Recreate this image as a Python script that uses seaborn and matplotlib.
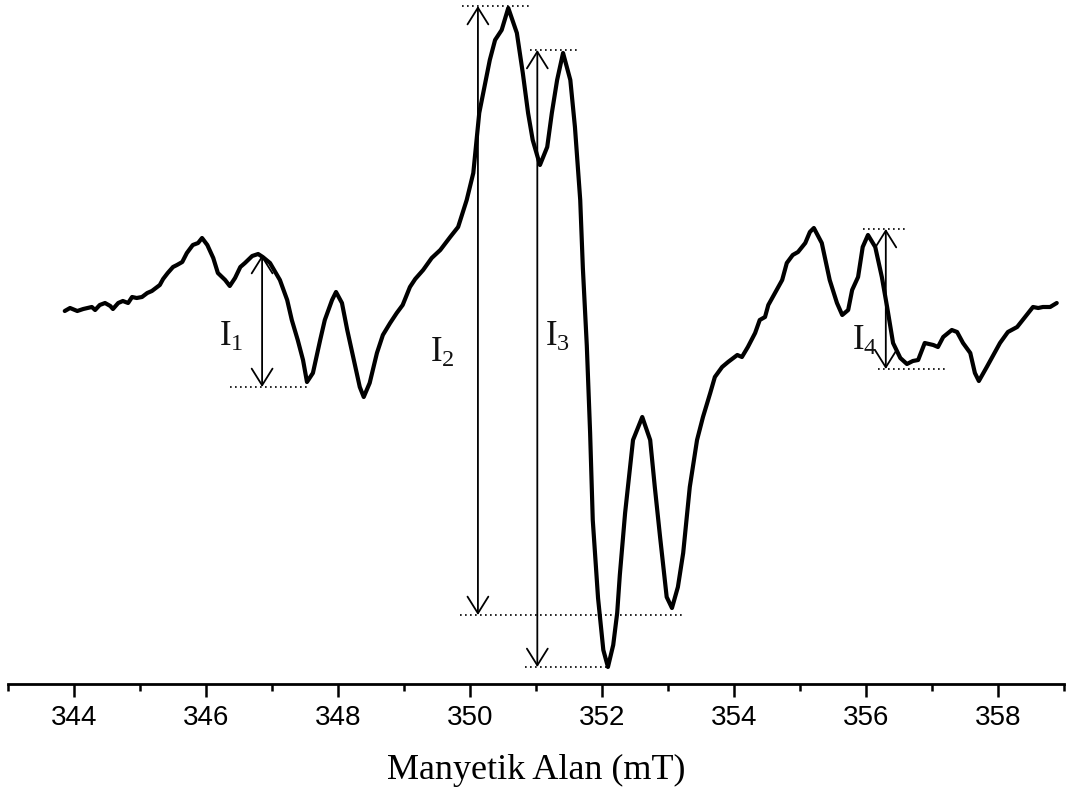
import numpy as np
import pandas as pd
import seaborn as sns
import matplotlib.pyplot as plt
from matplotlib.ticker import MultipleLocator

# EPR spektrumu (okunan degerler, keyfi birim)
field = [343.86, 343.94, 344.05, 344.14, 344.27, 344.32, 344.39, 344.47, 344.55, 344.59,
         344.67, 344.74, 344.82, 344.88, 344.95, 345.03, 345.11, 345.18, 345.26, 345.30,
         345.35, 345.42, 345.50, 345.56, 345.64, 345.71, 345.80, 345.88, 345.94, 346.02,
         346.11, 346.18, 346.29, 346.36, 346.44, 346.52, 346.59, 346.70, 346.79, 346.86,
         346.97, 347.12, 347.23, 347.30, 347.39, 347.47, 347.53, 347.62, 347.73, 347.80,
         347.91, 347.97, 348.06, 348.14, 348.23, 348.33, 348.39, 348.48, 348.59, 348.68,
         348.79, 348.89, 348.98, 349.09, 349.17, 349.29, 349.42, 349.55, 349.70, 349.82,
         349.95, 350.05, 350.14, 350.30, 350.38, 350.48, 350.58, 350.71, 350.80, 350.88,
         350.95, 351.06, 351.17, 351.24, 351.32, 351.41, 351.52, 351.59, 351.67, 351.71,
         351.77, 351.82, 351.86, 351.94, 352.02, 352.09, 352.17, 352.23, 352.27, 352.35,
         352.47, 352.61, 352.73, 352.80, 352.88, 352.98, 353.06, 353.15, 353.23, 353.33,
         353.44, 353.53, 353.64, 353.71, 353.82, 353.91, 354.05, 354.12, 354.21, 354.32,
         354.39, 354.47, 354.52, 354.62, 354.73, 354.80, 354.89, 354.97, 355.08, 355.15,
         355.21, 355.33, 355.45, 355.56, 355.64, 355.73, 355.79, 355.88, 355.95, 356.03,
         356.14, 356.24, 356.32, 356.41, 356.52, 356.62, 356.71, 356.79, 356.89, 357.02,
         357.09, 357.17, 357.30, 357.38, 357.47, 357.58, 357.65, 357.71, 357.83, 358.03,
         358.15, 358.29, 358.41, 358.53, 358.61, 358.68, 358.79, 358.89]
intensity = [9, 12, 9, 11, 13, 10, 15, 17, 14, 11,
             17, 19, 17, 23, 22, 23, 27, 29, 33, 35,
             41, 47, 53, 55, 58, 67, 75, 77, 82, 75,
             62, 47, 40, 34, 42, 53, 57, 64, 66, 63,
             57, 40, 20, 0, -20, -40, -62, -53, -20, 0,
             20, 28, 17, -10, -37, -67, -77, -63, -33, -15,
             -3, 7, 15, 33, 41, 50, 62, 70, 83, 93,
             120, 147, 207, 260, 280, 290, 312, 287, 247, 207,
             180, 155, 173, 207, 240, 267, 240, 193, 120, 52,
             -26, -113, -200, -278, -330, -347, -325, -293, -255, -193,
             -120, -97, -120, -167, -217, -277, -288, -267, -233, -167,
             -120, -97, -73, -57, -47, -42, -35, -37, -27, -13,
             0, 3, 15, 27, 40, 57, 65, 68, 77, 88,
             92, 77, 40, 17, 5, 10, 30, 43, 73, 85,
             73, 43, 13, -23, -38, -44, -41, -40, -23, -25,
             -27, -17, -10, -12, -23, -33, -53, -61, -47, -23,
             -12, -7, 3, 13, 12, 13, 13, 17]

# I1..I4 olcumleri: ok konumu, ust ve alt seviye
labels = ['1', '2', '3', '4']
arrow_x = [346.85, 350.12, 351.02, 356.30]
arrow_top = [65, 314, 270, 91]
arrow_bottom = [-67, -295, -347, -49]
label_x = [346.38, 349.58, 351.32, 355.98]
label_y = [-16, -32, -16, -20]

# noktali referans cizgileri (y, x1, x2)
guide_y = [-67, 314, -295, 270, -347, 91, -49]
guide_x1 = [346.36, 349.88, 349.85, 350.91, 350.83, 355.95, 356.18]
guide_x2 = [347.58, 350.91, 353.26, 351.62, 352.09, 356.59, 357.20]

df = pd.DataFrame({'field': field, 'intensity': intensity})

sns.set_style('white')
plt.rcParams['font.family'] = ['Liberation Sans', 'DejaVu Sans']
plt.rcParams['mathtext.fontset'] = 'custom'
plt.rcParams['mathtext.rm'] = 'Liberation Serif'
plt.rcParams['mathtext.it'] = 'Liberation Serif:italic'

fig = plt.figure(figsize=(10.66, 7.93), dpi=100)
ax = fig.add_axes([8 / 1066, 109 / 793, 1056 / 1066, 684 / 793])

sns.lineplot(data=df, x='field', y='intensity', color='black', linewidth=3,
             sort=False, estimator=None, ax=ax,
             solid_joinstyle='round', solid_capstyle='round')

for y, a, b in zip(guide_y, guide_x1, guide_x2):
    ax.plot([a, b], [y, y], color='black', lw=1.2, linestyle=(0, (1, 2)))

for lab, x, t, b, lx, ly in zip(labels, arrow_x, arrow_top, arrow_bottom, label_x, label_y):
    ax.annotate('', xy=(x, t), xytext=(x, b),
                arrowprops=dict(arrowstyle='<->,head_length=0.4,head_width=0.25',
                                mutation_scale=30, lw=1.3, color='black',
                                shrinkA=0, shrinkB=0))
    ax.text(lx, ly, r'$\mathrm{I}_{%s}$' % lab, fontsize=25, ha='center', va='center',
            color='#111111')

ax.set_xlim(343, 359)
ax.set_ylim(-364, 320)
ax.xaxis.set_major_locator(MultipleLocator(2))
ax.xaxis.set_minor_locator(MultipleLocator(1))
ax.set_xticks(range(344, 359, 2))
ax.set_yticks([])
for s in ['left', 'right', 'top']:
    ax.spines[s].set_visible(False)
ax.spines['bottom'].set_linewidth(2)
ax.spines['bottom'].set_color('black')
ax.tick_params(axis='x', which='major', direction='out', length=9, width=1.8,
               labelsize=20, pad=6, colors='black', labelcolor='black', bottom=True)
ax.tick_params(axis='x', which='minor', direction='out', length=5, width=1.8,
               colors='black', bottom=True)
ax.set_xlabel('Manyetik Alan (mT)', fontsize=26, color='black',
              family=['Liberation Serif', 'DejaVu Serif'], labelpad=17)
ax.set_ylabel('')
ax.patch.set_alpha(0)

plt.savefig('out.png', dpi=100)
